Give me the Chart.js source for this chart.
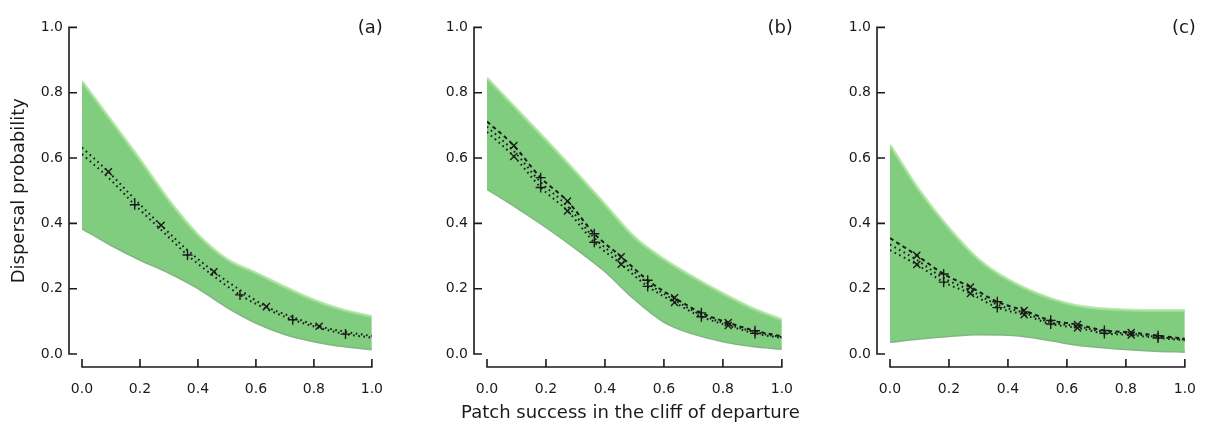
<!DOCTYPE html>
<html>
<head>
<meta charset="utf-8">
<script src="https://cdn.jsdelivr.net/npm/chart.js@4.4.0/dist/chart.umd.min.js"></script>
<style>
    html, body { margin: 0; padding: 0; background: #fff; }
    #wrap { position: relative; width: 1223px; height: 423px; }
    .panel { position: absolute; top: 0; height: 423px; }
</style>
</head>
<body>
<div id="wrap">
    <div class="panel" style="left:0;width:410px"><canvas id="chartA" width="410" height="423"></canvas></div>
    <div class="panel" style="left:410px;width:410px"><canvas id="chartB" width="410" height="423"></canvas></div>
    <div class="panel" style="left:820px;width:403px"><canvas id="chartC" width="403" height="423"></canvas></div>
</div>
<script>
// x positions: band edges every 0.1, model curves at the 11ths
var bandX = [0, 0.1, 0.2, 0.3, 0.4, 0.5, 0.6, 0.7, 0.8, 0.9, 1.0];
var lineX = [0, 0.091, 0.182, 0.273, 0.364, 0.455, 0.545, 0.636, 0.727, 0.818, 0.909, 1.0];
var tickValues = [0, 0.2, 0.4, 0.6, 0.8, 1.0];
var panelLabels = ['(a)', '(b)', '(c)'];
var yTitle = 'Dispersal probability';
var xTitle = 'Patch success in the cliff of departure';

// (a)
var aUpper = [0.835, 0.715, 0.595, 0.47, 0.365, 0.29, 0.248, 0.205, 0.165, 0.135, 0.115];
var aLower = [0.386, 0.335, 0.29, 0.25, 0.203, 0.145, 0.097, 0.062, 0.04, 0.025, 0.015];
var aLine1 = [0.632, 0.558, 0.474, 0.394, 0.318, 0.252, 0.196, 0.145, 0.113, 0.085, 0.068, 0.055];
var aLine2 = [0.612, 0.54, 0.457, 0.38, 0.303, 0.238, 0.181, 0.138, 0.105, 0.08, 0.061, 0.05];

// (b)
var bUpper = [0.845, 0.75, 0.655, 0.558, 0.458, 0.358, 0.29, 0.235, 0.185, 0.14, 0.105];
var bLower = [0.507, 0.45, 0.39, 0.325, 0.255, 0.17, 0.1, 0.063, 0.04, 0.025, 0.017];
var bLine1 = [0.712, 0.638, 0.54, 0.468, 0.368, 0.298, 0.226, 0.172, 0.126, 0.096, 0.071, 0.054];
var bLine2 = [0.696, 0.621, 0.526, 0.453, 0.355, 0.287, 0.217, 0.165, 0.12, 0.091, 0.067, 0.051];
var bLine3 = [0.68, 0.605, 0.51, 0.438, 0.342, 0.275, 0.207, 0.158, 0.114, 0.087, 0.063, 0.049];

// (c)
var cUpper = [0.64, 0.5, 0.385, 0.29, 0.228, 0.185, 0.155, 0.14, 0.135, 0.133, 0.133];
var cLower = [0.038, 0.048, 0.056, 0.061, 0.06, 0.05, 0.034, 0.023, 0.016, 0.011, 0.008];
var cLine1 = [0.355, 0.302, 0.245, 0.205, 0.16, 0.133, 0.103, 0.09, 0.072, 0.066, 0.056, 0.047];
var cLine2 = [0.335, 0.288, 0.232, 0.195, 0.151, 0.126, 0.097, 0.085, 0.067, 0.062, 0.052, 0.044];
var cLine3 = [0.318, 0.274, 0.22, 0.185, 0.142, 0.12, 0.092, 0.08, 0.063, 0.058, 0.049, 0.042];

(function () {
    'use strict';

    var FONT = '"DejaVu Sans", Verdana, sans-serif';
    var INK = '#1a1a1a';
    var GREEN = '#80cd80';

    function pts(xs, ys) {
        return xs.map(function (x, i) { return { x: x, y: ys[i] }; });
    }

    // marker: x on odd points, + on even points, none at the ends
    function markStyle(ctx) {
        return ctx.dataIndex % 2 === 1 ? 'crossRot' : 'cross';
    }
    function markRadius(which) {
        return function (ctx) {
            var i = ctx.dataIndex;
            if (i === 0 || i === lineX.length - 1) { return 0; }
            if (which === 'odd') { return i % 2 === 1 ? 5 : 0; }
            if (which === 'even') { return i % 2 === 0 ? 5 : 0; }
            if (which === 'all') { return 5; }
            return 0;
        };
    }

    function band(upper, lower) {
        return [{
            data: pts(bandX, upper),
            fill: '+1',
            backgroundColor: GREEN,
            borderColor: 'rgba(165,225,150,0.75)',
            borderWidth: 3,
            pointRadius: 0,
            cubicInterpolationMode: 'monotone',
            order: 3
        }, {
            data: pts(bandX, lower),
            fill: false,
            borderColor: 'rgba(108,168,108,0.85)',
            borderWidth: 3,
            pointRadius: 0,
            cubicInterpolationMode: 'monotone',
            order: 3
        }];
    }

    function curve(values, dash, marks) {
        return {
            data: pts(lineX, values),
            fill: false,
            borderColor: INK,
            borderWidth: 2,
            borderDash: dash,
            cubicInterpolationMode: 'monotone',
            pointStyle: markStyle,
            pointRadius: markRadius(marks),
            pointBorderColor: INK,
            pointBorderWidth: 1.4,
            pointBackgroundColor: 'rgba(0,0,0,0)',
            order: 1
        };
    }

    var DOT = [1.6, 3.6];
    var DASH = [4, 3.5];

    // R-style detached axes with inward ticks, the panel letter and
    // (middle panel only) the shared x title, which may run wider than the plot
    var rAxes = {
        id: 'rAxes',
        afterDraw: function (chart, args, opts) {
            var ctx = chart.ctx;
            var area = chart.chartArea;
            var xs = chart.scales.x, ys = chart.scales.y;
            var x0 = xs.getPixelForValue(0), x1 = xs.getPixelForValue(1);
            var y0 = ys.getPixelForValue(0), y1 = ys.getPixelForValue(1);
            var ax = x0 - 13, ay = y0 + 13;
            ctx.save();
            ctx.strokeStyle = INK;
            ctx.lineWidth = 1.6;
            ctx.beginPath();
            ctx.moveTo(ax, y1 - 0.8);
            ctx.lineTo(ax, y0 + 0.8);
            ys.ticks.forEach(function (t) {
                var p = ys.getPixelForValue(t.value);
                ctx.moveTo(ax, p);
                ctx.lineTo(ax + 8, p);
            });
            ctx.moveTo(x0 - 0.8, ay);
            ctx.lineTo(x1 + 0.8, ay);
            xs.ticks.forEach(function (t) {
                var p = xs.getPixelForValue(t.value);
                ctx.moveTo(p, ay);
                ctx.lineTo(p, ay - 8);
            });
            ctx.stroke();
            ctx.fillStyle = INK;
            ctx.font = '18px ' + FONT;
            ctx.textAlign = 'right';
            ctx.textBaseline = 'middle';
            ctx.fillText(opts.label, area.right + 11, area.top + 1);
            if (opts.xTitle) {
                ctx.textAlign = 'center';
                ctx.fillText(opts.xTitle, (area.left + area.right) / 2 - 4, chart.height - 10);
            }
            ctx.restore();
        }
    };

    function fmt(v) { return Number(v).toFixed(1); }

    function make(id, datasets, label, yWidth, rightPad, showY, showX) {
        new Chart(document.getElementById(id), {
            type: 'line',
            data: { datasets: datasets },
            plugins: [rAxes],
            options: {
                responsive: false,
                animation: false,
                layout: { padding: { left: 0, right: rightPad, top: 24, bottom: 0 } },
                plugins: {
                    legend: { display: false },
                    tooltip: { enabled: false },
                    rAxes: { label: label, xTitle: showX ? xTitle : '' }
                },
                scales: {
                    x: {
                        type: 'linear',
                        min: 0,
                        max: 1,
                        grid: { display: false, drawTicks: false },
                        border: { display: false },
                        afterBuildTicks: function (s) {
                            s.ticks = tickValues.map(function (v) { return { value: v }; });
                        },
                        afterFit: function (s) { s.height = 69; },
                        ticks: {
                            padding: 27,
                            color: INK,
                            font: { family: FONT, size: 14 },
                            maxRotation: 0,
                            callback: fmt
                        }
                    },
                    y: {
                        type: 'linear',
                        min: 0,
                        max: 1,
                        grid: { display: false, drawTicks: false },
                        border: { display: false },
                        afterBuildTicks: function (s) {
                            s.ticks = tickValues.map(function (v) { return { value: v }; });
                        },
                        afterFit: function (s) { s.width = yWidth; },
                        ticks: {
                            padding: 19,
                            color: INK,
                            font: { family: FONT, size: 14 },
                            callback: fmt
                        },
                        title: {
                            display: showY,
                            text: yTitle,
                            color: INK,
                            font: { family: FONT, size: 18 },
                            padding: { top: 9, bottom: 0 }
                        }
                    }
                }
            }
        });
    }

    make('chartA',
        band(aUpper, aLower).concat([
            curve(aLine1, DOT, 'odd'),
            curve(aLine2, DOT, 'even')
        ]),
        panelLabels[0], 82, 16, true, false);

    make('chartB',
        band(bUpper, bLower).concat([
            curve(bLine1, DASH, 'all'),
            curve(bLine2, DOT, 'none'),
            curve(bLine3, DOT, 'all')
        ]),
        panelLabels[1], 77, 22, false, true);

    make('chartC',
        band(cUpper, cLower).concat([
            curve(cLine1, DASH, 'all'),
            curve(cLine2, DOT, 'none'),
            curve(cLine3, DOT, 'all')
        ]),
        panelLabels[2], 70, 21, false, false);
})();
</script>
</body>
</html>
